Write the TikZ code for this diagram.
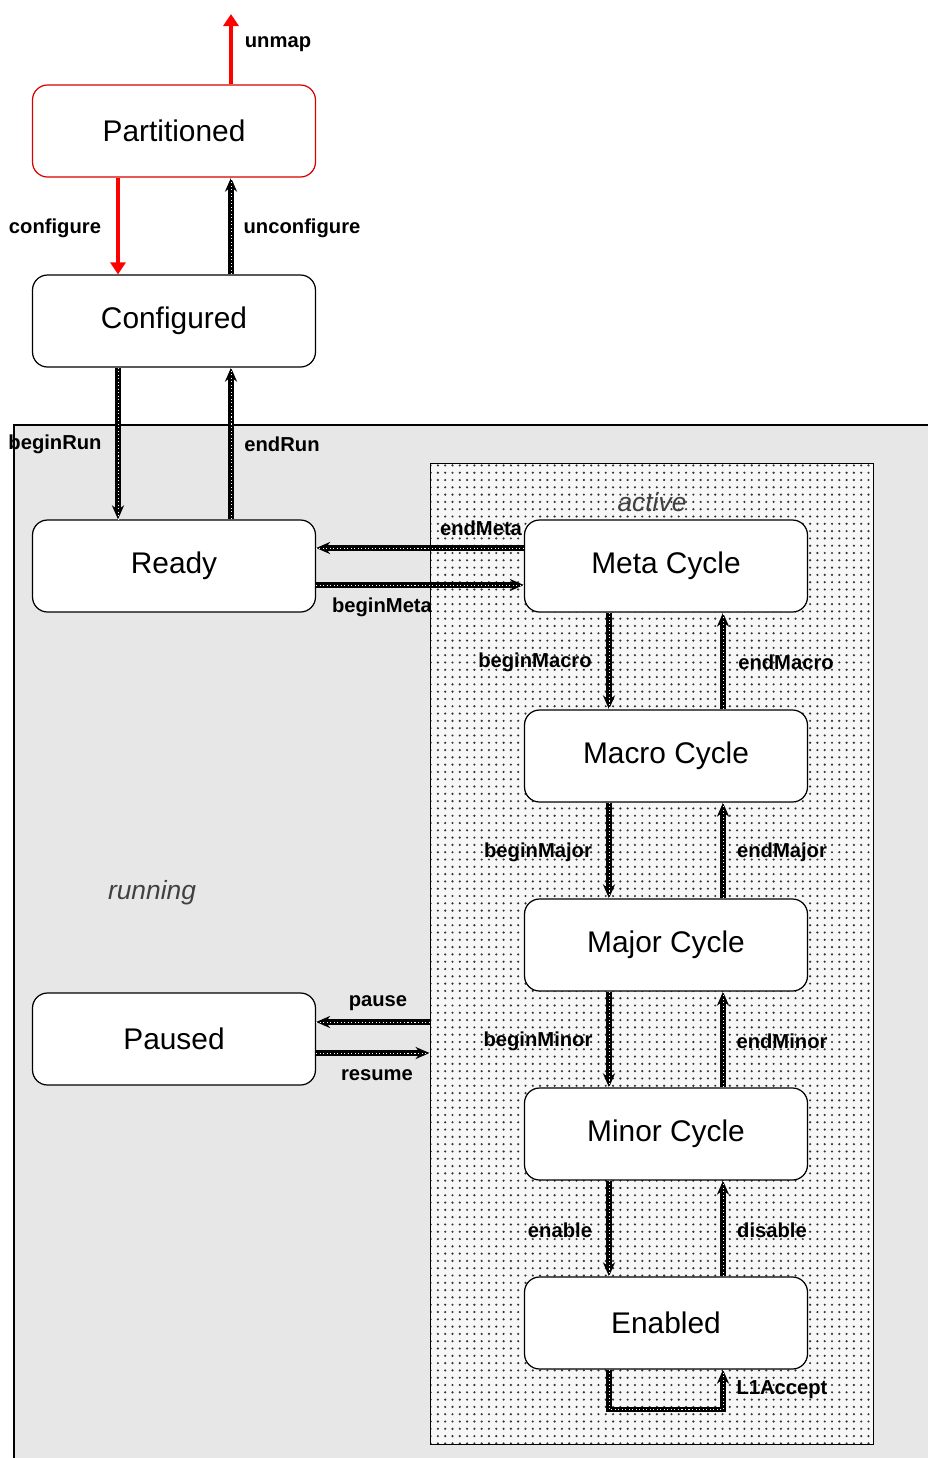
\documentclass[tikz,border=0pt]{standalone}
\usepackage{fontspec}
\setmainfont{Liberation Sans}
\usetikzlibrary{arrows.meta,patterns.meta}
\begin{document}
\begin{tikzpicture}[x=0.02cm,y=-0.02cm,
  state/.style={draw=black, line width=0.7pt, fill=white, rounded corners=0.3cm,
    minimum width=5.66cm, minimum height=1.84cm, inner sep=0,
    font=\fontsize{17}{20}\selectfont},
  lbl/.style={font=\bfseries\fontsize{11.5}{13}\selectfont, inner sep=0},
  regionlbl/.style={font=\itshape\fontsize{15}{18}\selectfont, text=black!75, inner sep=0},
  redarrow/.style={draw=red, line width=2.8pt, -{Triangle[length=0.24cm,width=0.3cm]}},
  trans/.style={draw=black, line width=3pt, -{Stealth[length=0.28cm,width=0.24cm]},
    postaction={draw=white, line width=0.45pt, dash pattern=on 0.6pt off 1.4pt, -}},
]
\clip (0,0) rectangle (928,1458);
\fill[white] (0,0) rectangle (928,1458);

% running region
\fill[gray!19] (14,425) rectangle (940,1470);
\draw[line width=0.6pt] (14,1470) -- (14,425) -- (940,425);

% active region
\node (active) [draw=black, line width=0.5pt, minimum width=8.86cm, minimum height=19.64cm, inner sep=0,
  preaction={fill=gray!6}, pattern={Dots[distance=0.146cm,radius=0.024cm]}, pattern color=black!80]
  at (651.5,954) {};

\node[regionlbl] (lactive) at (652,502) {active};
\node[regionlbl] (lrunning) at (152,893) {running};

% states
\node[state, draw=red!85!black] (part) at (174,131) {Partitioned};
\node[state] (conf) at (174,321) {Configured};
\node[state] (ready) at (174,566) {Ready};
\node[state] (paused) at (174,1039) {Paused};
\node[state] (meta) at (666,566) {Meta Cycle};
\node[state] (macro) at (666,756) {Macro Cycle};
\node[state] (major) at (666,945) {Major Cycle};
\node[state] (minor) at (666,1134) {Minor Cycle};
\node[state] (enabled) at (666,1323) {Enabled};

% helper coordinates
\coordinate (xa) at (118,0);
\coordinate (xb) at (231,0);
\coordinate (xl) at (609,0);
\coordinate (xr) at (723,0);
\coordinate (top) at (231,14);
\coordinate (yem) at (0,548);
\coordinate (ybm) at (0,585);
\coordinate (ypa) at (0,1022);
\coordinate (yre) at (0,1053);

% red transitions
\draw[redarrow] (part.north -| xb) -- (top);
\draw[redarrow] (part.south -| xa) -- (conf.north -| xa);

% hatched transitions
\draw[trans] (conf.north -| xb) -- (part.south -| xb);
\draw[trans] (conf.south -| xa) -- (ready.north -| xa);
\draw[trans] (ready.north -| xb) -- (conf.south -| xb);
\draw[trans] (meta.west |- yem) -- (ready.east |- yem);
\draw[trans] (ready.east |- ybm) -- (meta.west |- ybm);
\draw[trans] (meta.south -| xl) -- (macro.north -| xl);
\draw[trans] (macro.north -| xr) -- (meta.south -| xr);
\draw[trans] (macro.south -| xl) -- (major.north -| xl);
\draw[trans] (major.north -| xr) -- (macro.south -| xr);
\draw[trans] (major.south -| xl) -- (minor.north -| xl);
\draw[trans] (minor.north -| xr) -- (major.south -| xr);
\draw[trans] (minor.south -| xl) -- (enabled.north -| xl);
\draw[trans] (enabled.north -| xr) -- (minor.south -| xr);
\draw[trans] (active.west |- ypa) -- (paused.east |- ypa);
\draw[trans] (paused.east |- yre) -- (active.west |- yre);
\draw[trans] (enabled.south -| xl) -- ++(0,40) -| (enabled.south -| xr);

% labels
\node[lbl] (l1) at (278,44) {unmap};
\node[lbl] (l2) at (55,228) {configure};
\node[lbl] (l3) at (302,228) {unconfigure};
\node[lbl] (l4) at (55,444) {beginRun};
\node[lbl] (l5) at (282,444) {endRun};
\node[lbl] (l6) at (481,528) {endMeta};
\node[lbl] (l7) at (382,607) {beginMeta};
\node[lbl] (l8) at (535,662) {beginMacro};
\node[lbl] (l9) at (786,662) {endMacro};
\node[lbl] (l10) at (538,852) {beginMajor};
\node[lbl] (l11) at (782,852) {endMajor};
\node[lbl] (l12) at (538,1041) {beginMinor};
\node[lbl] (l13) at (782,1041) {endMinor};
\node[lbl] (l14) at (560,1230) {enable};
\node[lbl] (l15) at (772,1230) {disable};
\node[lbl] (l16) at (378,1003) {pause};
\node[lbl] (l17) at (377,1075) {resume};
\node[lbl] (l18) at (782,1390) {L1Accept};
\end{tikzpicture}
\end{document}
